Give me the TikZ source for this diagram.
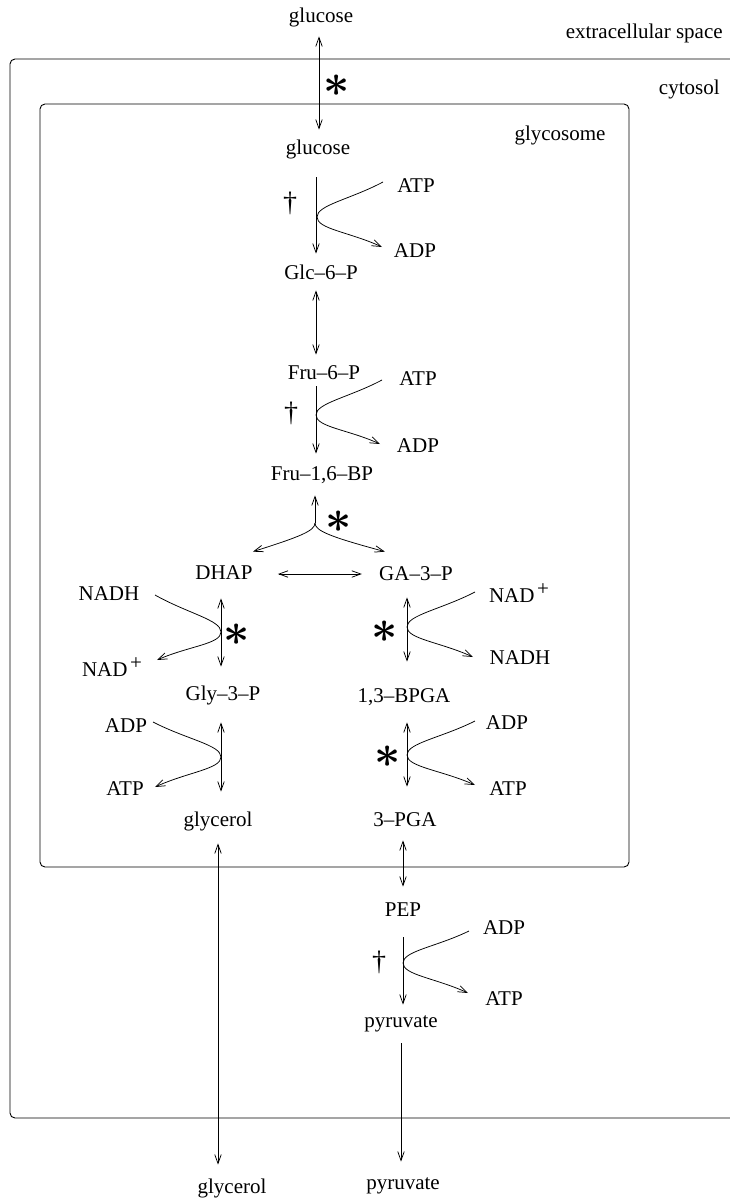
\documentclass[tikz,border=0pt]{standalone}
\usepackage{fontspec}
\setmainfont{Liberation Serif}
\usepackage{graphicx}
\usetikzlibrary{arrows.meta,calc}
\newcommand\lblfont{\fontsize{21}{24}\selectfont}
\newcommand\dagfont{\fontsize{28}{28}\selectfont}
\newcommand\bigast{\scalebox{2.2}{\boldmath$\ast$}}
\newcommand\plussup{\kern2.5pt\raisebox{7pt}{\fontsize{21}{21}\selectfont+}}
\newcommand\rxncurve[3]{\draw[arr] (#1) .. controls ($(#1)!0.5!(#2)$) and ($(#2)+(0,-12)$) .. (#2) .. controls ($(#2)+(0,12)$) and ($(#3)!0.5!(#2)$) .. (#3);}
\begin{document}
\begin{tikzpicture}[x=1pt,y=-1pt,line width=0.75pt,
  lbl/.style={inner sep=0pt,font=\lblfont,text height=14pt,text depth=4pt},
  dag/.style={inner sep=0pt,font=\dagfont},
  star/.style={inner sep=0pt,font=\lblfont},
  arr/.style={-{Straight Barb[length=9pt,width=6.5pt]}},
  dbl/.style={{Straight Barb[length=9pt,width=6.5pt]}-{Straight Barb[length=9pt,width=6.5pt]}},
  box/.style={line width=0.9pt,rounded corners=5pt}]
\useasboundingbox (0,0) rectangle (730,1200);
% compartments
\draw[box] (735,59) -- (10,59) -- (10,1118) -- (735,1118);
\draw[box] (40,104) rectangle (629,867);
% compartment labels
\node[lbl,anchor=east] (ecs) at (723,33) {extracellular space};
\node[lbl,anchor=east] (cyt) at (720,89) {cytosol};
\node[lbl] (gsome) at (560,135) {glycosome};
% metabolites
\node[lbl] (gout) at (321,17) {glucose};
\node[lbl] (gin) at (318,149) {glucose};
\node[lbl] (g6p) at (321,274) {Glc–6–P};
\node[lbl] (f6p) at (324,374) {Fru–6–P};
\node[lbl] (fbp) at (322,475) {Fru–1,6–BP};
\node[lbl] (dhap) at (224,574) {DHAP};
\node[lbl] (ga3p) at (416,575) {GA–3–P};
\node[lbl] (gly3p) at (223,695) {Gly–3–P};
\node[lbl] (bpga) at (404,697) {1,3–BPGA};
\node[lbl] (glyin) at (218,821) {glycerol};
\node[lbl] (pga) at (405,821) {3–PGA};
\node[lbl] (pep) at (403,911) {PEP};
\node[lbl] (pyr) at (401,1022) {pyruvate};
\node[lbl] (glyout) at (232,1188) {glycerol};
\node[lbl] (pyrout) at (403,1184) {pyruvate};
% cofactors
\node[lbl] (atp1) at (416,187) {ATP};
\node[lbl] (adp1) at (415,252) {ADP};
\node[lbl] (atp2) at (418,380) {ATP};
\node[lbl] (adp2) at (418,447) {ADP};
\node[lbl] (nadhL) at (109,595) {NADH};
\node[lbl] (nadL) at (112,671) {NAD\plussup};
\node[lbl] (nadR) at (519,597) {NAD\plussup};
\node[lbl] (nadhR) at (520,659) {NADH};
\node[lbl] (adpL) at (126,727) {ADP};
\node[lbl] (atpL) at (125,790) {ATP};
\node[lbl] (adpR) at (507,724) {ADP};
\node[lbl] (atpR) at (508,790) {ATP};
\node[lbl] (adpP) at (504,929) {ADP};
\node[lbl] (atpP) at (504,1000) {ATP};
% markers
\node[star] (s1) at (337,86) {\bigast};
\node[star] (s2) at (339,522) {\bigast};
\node[star] (s3) at (237,635) {\bigast};
\node[star] (s4) at (385,632) {\bigast};
\node[star] (s5) at (388,757) {\bigast};
\node[dag] (d1) at (290,203) {†};
\node[dag] (d2) at (291,413) {†};
\node[dag] (d3) at (379,962) {†};
% axes
\coordinate (axT) at (319,0);
\coordinate (axM) at (316,0);
\coordinate (axL) at (221,0);
\coordinate (axG) at (218,0);
\coordinate (axR) at (407,0);
\coordinate (axP) at (403,0);
\coordinate (axY) at (401,0);
% main arrows
\draw[dbl,shorten <=10pt,shorten >=10pt] (gout.south -| axT) -- (gin.north -| axT);
\draw[arr,shorten <=19pt,shorten >=11pt] (gin.south -| axM) -- (g6p.north -| axM);
\draw[dbl,shorten <=7pt,shorten >=10pt] (g6p.south -| axM) -- (f6p.north -| axM);
\draw[arr,shorten <=3pt,shorten >=12pt] (f6p.south -| axM) -- (fbp.north -| axM);
% aldolase fork
\coordinate (fork) at (315,523);
\draw[arr,shorten >=11pt] (fork) -- (fbp.south -| fork);
\draw[arr] (fork) .. controls ($(fork)+(0,8)$) and ($(fork)+(-16,14)$) .. ($(dhap.north east)+(0,-13)$);
\draw[arr] (fork) .. controls ($(fork)+(0,8)$) and ($(fork)+(16,14)$) .. ($(ga3p.north west)+(6,-14)$);
\draw[dbl,shorten <=25pt,shorten >=17pt] (dhap.east) -- (ga3p.west |- dhap.east);
% left branch
\draw[dbl,shorten <=15pt,shorten >=19pt] (dhap.south -| axL) -- (gly3p.north -| axL);
\draw[dbl,shorten <=18pt,shorten >=20pt] (gly3p.south -| axL) -- (glyin.north -| axL);
\draw[dbl,shorten <=13pt,shorten >=14pt] (glyin.south -| axG) -- (glyout.north -| axG);
% right branch
\draw[dbl,shorten <=13pt,shorten >=26pt] (ga3p.south -| axR) -- (bpga.north -| axR);
\draw[dbl,shorten <=16pt,shorten >=25pt] (bpga.south -| axR) -- (pga.north -| axR);
\draw[dbl,shorten <=10pt,shorten >=15pt] (pga.south -| axP) -- (pep.north -| axP);
\draw[arr,shorten <=17pt,shorten >=8pt] (pep.south -| axP) -- (pyr.north -| axP);
\draw[arr,shorten <=12pt,shorten >=13pt] (pyr.south -| axY) -- (pyrout.north -| axY);
% cofactor curves
\coordinate (hkS) at (383,182); \coordinate (hkV) at (317,217); \coordinate (hkE) at (382,247);
\coordinate (pfS) at (382,380); \coordinate (pfV) at (316,415); \coordinate (pfE) at (380,444);
\coordinate (gdS) at (155,595); \coordinate (gdV) at (221,632); \coordinate (gdE) at (157,660);
\coordinate (gaS) at (475,592); \coordinate (gaV) at (407,627); \coordinate (gaE) at (473,657);
\coordinate (gkS) at (153,722); \coordinate (gkV) at (221,757); \coordinate (gkE) at (155,787);
\coordinate (pgS) at (475,721); \coordinate (pgV) at (407,755); \coordinate (pgE) at (475,785);
\coordinate (pkS) at (469,931); \coordinate (pkV) at (403,963); \coordinate (pkE) at (468,993);
\rxncurve{hkS}{hkV}{hkE}
\rxncurve{pfS}{pfV}{pfE}
\rxncurve{gdS}{gdV}{gdE}
\rxncurve{gaS}{gaV}{gaE}
\rxncurve{gkS}{gkV}{gkE}
\rxncurve{pgS}{pgV}{pgE}
\rxncurve{pkS}{pkV}{pkE}
\end{tikzpicture}
\end{document}
